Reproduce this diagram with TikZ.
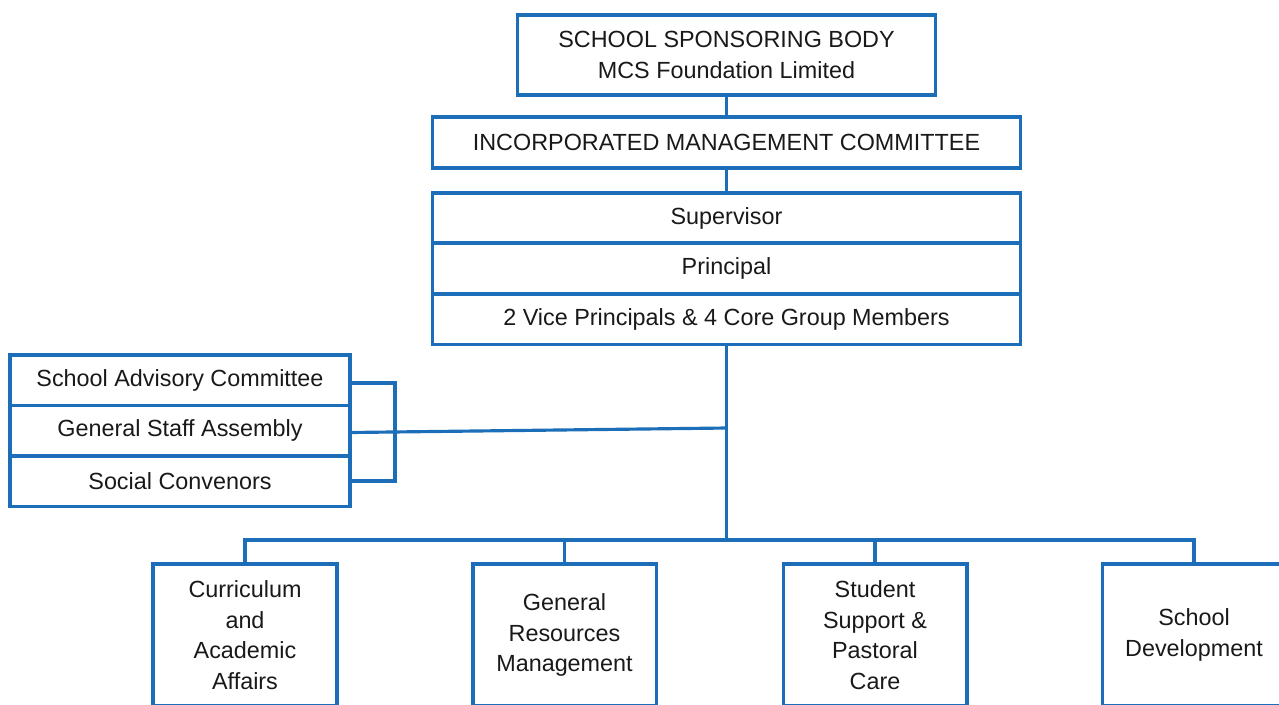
\documentclass[tikz,border=0pt]{standalone}
\usepackage{fontspec}
\setmainfont{Liberation Sans}
\usetikzlibrary{positioning}
\definecolor{orgblue}{RGB}{28,110,184}

\begin{document}
\begin{tikzpicture}[
        box/.style={draw=orgblue, line width=2pt, inner sep=0pt, outer sep=0pt,
        align=center, font=\fontsize{13.3}{17.4}\selectfont, text=black!90},
        wide/.style={box, minimum width=11.76cm, minimum height=1.01cm},
        side/.style={box, minimum width=6.8cm, minimum height=1.01cm},
        unit/.style={box, minimum width=3.67cm, minimum height=2.84cm},
        link/.style={draw=orgblue, line width=1.8pt}
      ]
      \useasboundingbox (0,0) rectangle (25.58,-14.08);
      \clip (0,0) rectangle (25.58,-14.08);

      % Nodes
      \node[box, minimum width=8.36cm, minimum height=1.6cm] (ssb) at (14.53, -1.10)
      {SCHOOL SPONSORING BODY\\MCS Foundation Limited};
      \node[wide] (imc) at (14.53, -2.85) {INCORPORATED MANAGEMENT COMMITTEE};
      \node[wide] (sup) at (14.53, -4.36) {Supervisor};
      \node[wide, below=0pt of sup] (pri) {Principal};
      \node[wide, below=0pt of pri] (vp) {2 Vice Principals \& 4 Core Group Members};

      % Left group
      \node[side] (sac) at (3.6, -7.6) {School Advisory Committee};
      \node[side, below=0pt of sac] (gsa) {General Staff Assembly};
      \node[side, below=0pt of gsa] (scv) {Social Convenors};

      % Sections
      \node[unit] (cur) at (4.9, -12.70) {Curriculum\\and\\Academic\\Affairs};
      \node[unit] (gen) at (11.29, -12.70) {General\\Resources\\Management};
      \node[unit] (stu) at (17.5, -12.70) {Student\\Support \&\\Pastoral\\Care};
      \node[unit] (dev) at (23.88, -12.70) {School\\Development};

      % Connectors
      \coordinate (brk) at (7.9, -8.6);
      \coordinate (gsaj) at (14.53, -8.56);
      \coordinate (bus) at (14.53, -10.8);
      \draw[link] (ssb.south) -- (imc.north);
      \draw[link] (imc.south) -- (sup.north);
      \draw[link] (vp.south) -- (bus);
      \draw[link] ([yshift=-0.06cm]sac.east) -| (brk) |- (scv.east);
      \draw[link] ([yshift=-0.04cm]gsa.east) -- (gsaj);
      \draw[link] (cur.north) |- (bus) -| (dev.north);
      \draw[link] (gen.north) -- (gen.north |- bus);
      \draw[link] (stu.north) -- (stu.north |- bus);
    \end{tikzpicture}
\end{document}
